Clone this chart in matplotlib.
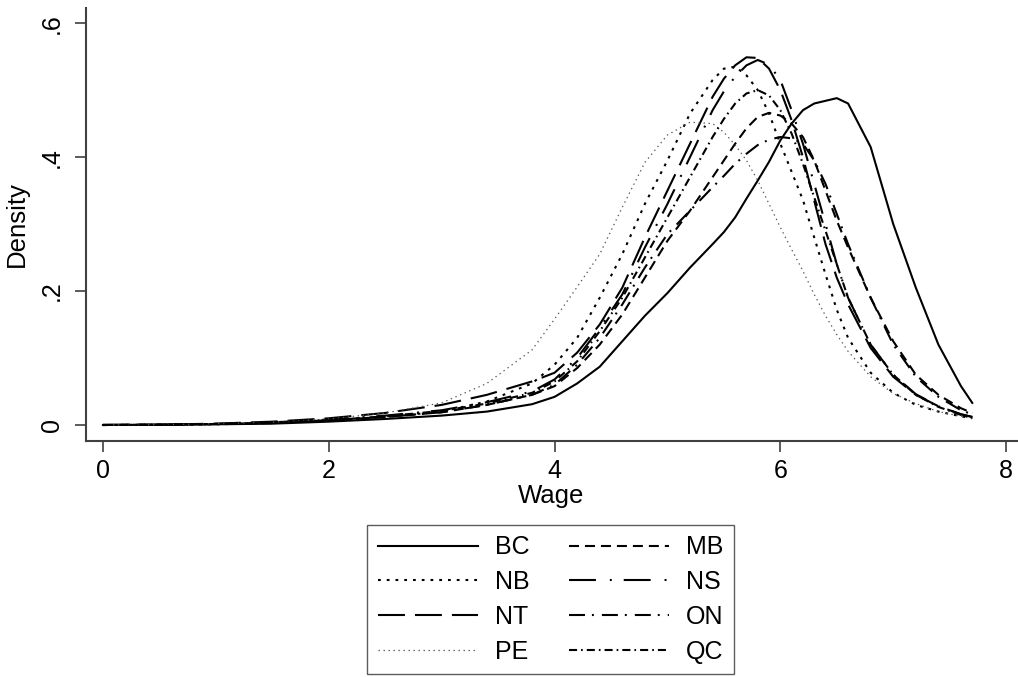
import matplotlib
matplotlib.use('Agg')
import matplotlib.pyplot as plt

plt.rcParams['font.family'] = ['Liberation Sans', 'DejaVu Sans']
plt.rcParams['lines.scale_dashes'] = False

# kernel density of log wage by province, read at common grid points
wage = [0, 0.5, 1, 1.5, 2, 2.5, 3, 3.4, 3.8, 4.0, 4.2, 4.4, 4.6, 4.8, 5.0,
        5.2, 5.4, 5.5, 5.6, 5.7, 5.8, 5.9, 6.0, 6.1, 6.2, 6.3, 6.4, 6.5,
        6.6, 6.8, 7.0, 7.2, 7.4, 7.6, 7.7]

bc = [0, 0.0003, 0.001, 0.002, 0.005, 0.009, 0.014, 0.020, 0.031, 0.042,
      0.062, 0.087, 0.125, 0.163, 0.197, 0.235, 0.270, 0.288, 0.310, 0.338,
      0.365, 0.393, 0.425, 0.450, 0.470, 0.480, 0.484, 0.488, 0.480, 0.415,
      0.300, 0.205, 0.120, 0.058, 0.033]
mb = [0, 0.0004, 0.0015, 0.003, 0.007, 0.012, 0.019, 0.030, 0.045, 0.058,
      0.085, 0.120, 0.165, 0.220, 0.275, 0.320, 0.370, 0.395, 0.420, 0.443,
      0.460, 0.466, 0.462, 0.450, 0.430, 0.395, 0.350, 0.305, 0.265, 0.190,
      0.125, 0.075, 0.045, 0.025, 0.018]
nb = [0, 0.0003, 0.001, 0.003, 0.007, 0.012, 0.020, 0.035, 0.062, 0.090,
      0.130, 0.190, 0.255, 0.330, 0.395, 0.465, 0.515, 0.532, 0.535, 0.522,
      0.500, 0.465, 0.420, 0.378, 0.336, 0.280, 0.225, 0.172, 0.130, 0.078,
      0.048, 0.030, 0.020, 0.013, 0.010]
ns = [0, 0.0004, 0.0015, 0.004, 0.008, 0.014, 0.022, 0.034, 0.050, 0.068,
      0.100, 0.145, 0.195, 0.265, 0.330, 0.400, 0.470, 0.498, 0.520, 0.537,
      0.545, 0.538, 0.515, 0.470, 0.420, 0.360, 0.300, 0.240, 0.190, 0.120,
      0.075, 0.046, 0.028, 0.016, 0.012]
nt = [0, 0.0005, 0.002, 0.005, 0.010, 0.018, 0.030, 0.045, 0.065, 0.078,
      0.108, 0.150, 0.205, 0.280, 0.350, 0.420, 0.490, 0.517, 0.537, 0.549,
      0.548, 0.532, 0.500, 0.455, 0.400, 0.335, 0.270, 0.220, 0.180, 0.115,
      0.072, 0.045, 0.028, 0.016, 0.012]
on = [0, 0.0004, 0.0015, 0.003, 0.007, 0.012, 0.019, 0.030, 0.045, 0.060,
      0.090, 0.130, 0.180, 0.235, 0.285, 0.320, 0.355, 0.372, 0.390, 0.405,
      0.418, 0.426, 0.430, 0.428, 0.420, 0.395, 0.360, 0.315, 0.270, 0.190,
      0.120, 0.072, 0.042, 0.022, 0.016]
pe = [0, 0.0005, 0.002, 0.004, 0.009, 0.018, 0.033, 0.062, 0.112, 0.158,
      0.206, 0.255, 0.325, 0.392, 0.433, 0.452, 0.450, 0.437, 0.418, 0.395,
      0.365, 0.330, 0.295, 0.262, 0.230, 0.195, 0.163, 0.135, 0.110, 0.072,
      0.047, 0.032, 0.020, 0.013, 0.010]
qc = [0, 0.0004, 0.0015, 0.003, 0.007, 0.013, 0.021, 0.032, 0.048, 0.065,
      0.095, 0.140, 0.190, 0.250, 0.310, 0.370, 0.430, 0.457, 0.480, 0.495,
      0.500, 0.492, 0.470, 0.435, 0.390, 0.340, 0.290, 0.240, 0.190, 0.120,
      0.075, 0.045, 0.027, 0.015, 0.011]

provinces = ['BC', 'MB', 'NB', 'NS', 'NT', 'ON', 'PE', 'QC']
densities = [bc, mb, nb, ns, nt, on, pe, qc]

# stata-like mono line patterns (on/off in points)
styles = {
    'BC': dict(ls='-'),
    'MB': dict(ls=(0, (7.2, 4.3))),
    'NB': dict(ls=(0, (2.0, 4.3))),
    'NS': dict(ls=(0, (19.4, 10.0, 1.4, 8.6))),
    'NT': dict(ls=(0, (19.4, 7.2))),
    'ON': dict(ls=(0, (11.5, 5.0, 1.4, 5.8))),
    'PE': dict(ls=(0, (1.0, 2.6)), lw=0.9, color='0.35'),
    'QC': dict(ls=(0, (5.8, 2.9, 1.2, 2.9))),
}

fig = plt.figure(figsize=(10.18, 6.77), dpi=100)
ax = fig.add_axes([0.0845, 0.3486, 0.9145, 0.6394])

lines = {}
for prov, dens in zip(provinces, densities):
    st = dict(lw=1.5, color='black')
    st.update(styles[prov])
    ls = st.pop('ls')
    (ln,) = ax.plot(wage, dens, linestyle=ls, label=prov, **st)
    lines[prov] = ln

ax.set_xlim(-0.15, 8.096)
ax.set_ylim(-0.0239, 0.6224)
ax.set_xticks([0, 2, 4, 6, 8])
ax.set_yticks([0, 0.2, 0.4, 0.6])
ax.set_yticklabels(['0', '.2', '.4', '.6'], rotation=90, va='center')
ax.tick_params(length=8, width=1.2, color='0.25', labelsize=18, pad=5)
ax.tick_params(axis='y', pad=8)
for side in ['top', 'right']:
    ax.spines[side].set_visible(False)
for side in ['left', 'bottom']:
    ax.spines[side].set_linewidth(1.5)
    ax.spines[side].set_color('0.25')

ax.set_xlabel('Wage', fontsize=18.5, labelpad=1)
ax.set_ylabel('Density', fontsize=18.5, labelpad=8)

# two-column legend filled row by row
order = ['BC', 'NB', 'NT', 'PE', 'MB', 'NS', 'ON', 'QC']
leg = fig.legend([lines[p] for p in order], order, loc='center',
                 bbox_to_anchor=(0.541, 0.1145), ncol=2, fontsize=18,
                 frameon=True, fancybox=False, edgecolor='0.2',
                 handlelength=4.0, handletextpad=0.68, columnspacing=1.6,
                 labelspacing=0.43, borderpad=0.42, borderaxespad=0)
leg.get_frame().set_linewidth(1.0)

fig.savefig('out.png', dpi=100)
